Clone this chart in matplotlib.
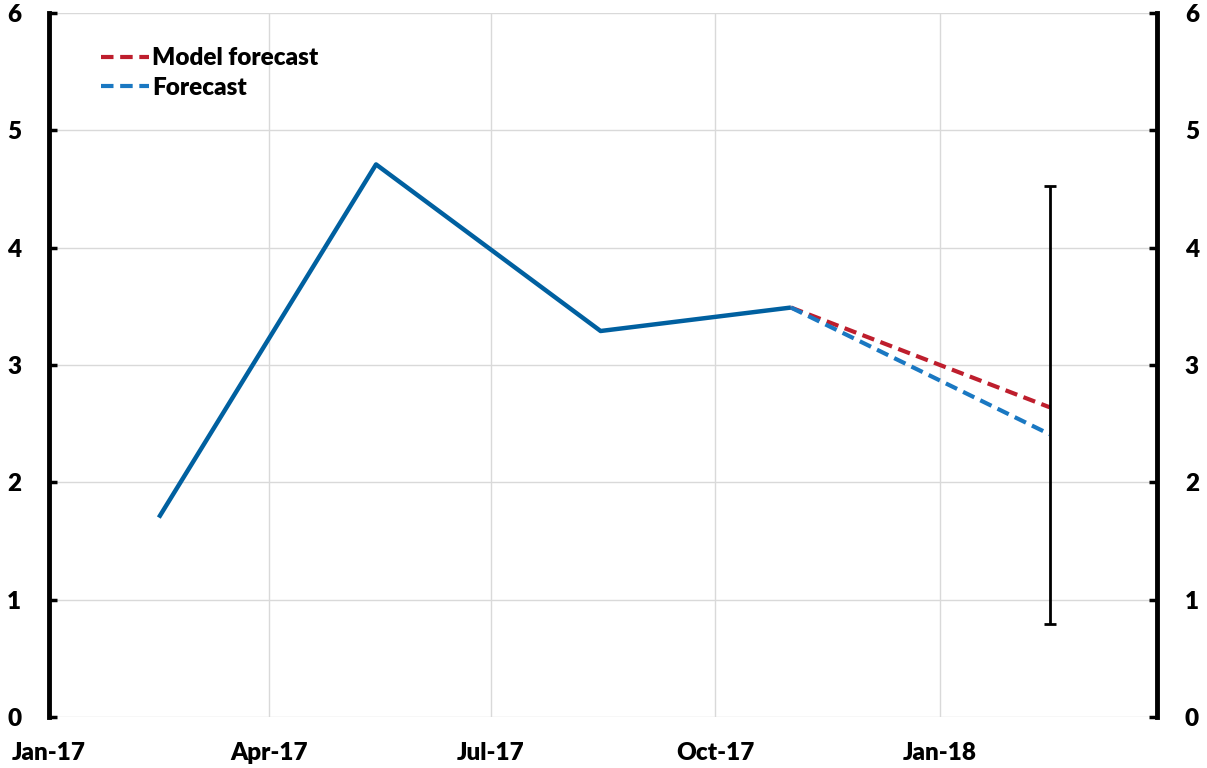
import numpy as np
import pandas as pd
import matplotlib
matplotlib.use("Agg")
import matplotlib.pyplot as plt
import matplotlib.dates as mdates

plt.rcParams['font.family'] = ['Lato', 'DejaVu Sans']
plt.rcParams['font.weight'] = 'heavy'

# data
actual_dates = pd.to_datetime(['2017-02-15', '2017-05-15', '2017-08-15', '2017-11-01'])
actual_vals = [1.70, 4.71, 3.29, 3.49]

fc_dates = pd.to_datetime(['2017-11-01', '2018-02-15'])
model_fc_vals = [3.49, 2.64]
fc_vals = [3.49, 2.41]

band_date = pd.to_datetime('2018-02-15')
band_low = 0.79
band_high = 4.53

tick_dates = pd.to_datetime(['2017-01-01', '2017-04-01', '2017-07-01', '2017-10-01', '2018-01-01'])
tick_labels = ['Jan-17', 'Apr-17', 'Jul-17', 'Oct-17', 'Jan-18']

fig = plt.figure(figsize=(12.07, 7.68), dpi=100)
ax = fig.add_axes([0.0406, 0.0664, 0.918, 0.9166])

ax.plot(actual_dates, actual_vals, color='#0060A0', lw=3.2, solid_capstyle='butt', zorder=3)
ax.plot(fc_dates, model_fc_vals, color='#BE1E2D', lw=3, ls=(0, (3, 1.6)), label='Model forecast', zorder=3)
ax.plot(fc_dates, fc_vals, color='#1A78C2', lw=3, ls=(0, (3, 1.6)), label='Forecast', zorder=3)

mid = (band_low + band_high) / 2
ax.errorbar([band_date], [mid], yerr=[[mid - band_low], [band_high - mid]],
            fmt='none', ecolor='black', elinewidth=2, capsize=4, capthick=2, zorder=4)

ax.set_xlim(pd.Timestamp('2017-01-01'), pd.Timestamp('2018-03-31'))
ax.set_ylim(0, 6)
ax.set_yticks(range(0, 7))
ax.set_xticks(tick_dates)
ax.set_xticklabels(tick_labels)

ax.grid(True, color='#D9D9D9', lw=1)
ax.set_axisbelow(True)

for s in ['top', 'bottom']:
    ax.spines[s].set_visible(False)
for s in ['left', 'right']:
    ax.spines[s].set_linewidth(3.5)
    ax.spines[s].set_color('black')

ax.tick_params(axis='y', direction='in', length=6, width=2.5, labelsize=17.5, pad=20,
               left=True, right=True, labelleft=True, labelright=True)
ax.tick_params(axis='x', length=0, labelsize=17.5, pad=18)
for lbl in ax.get_xticklabels() + ax.get_yticklabels():
    lbl.set_fontweight('heavy')

leg = ax.legend(loc='upper left', bbox_to_anchor=(0.038, 0.965), frameon=False,
                prop={'size': 17.5, 'weight': 'heavy'}, handlelength=2.0,
                handletextpad=0.1, labelspacing=0.3, borderaxespad=0)

fig.savefig('out.png', dpi=100)
